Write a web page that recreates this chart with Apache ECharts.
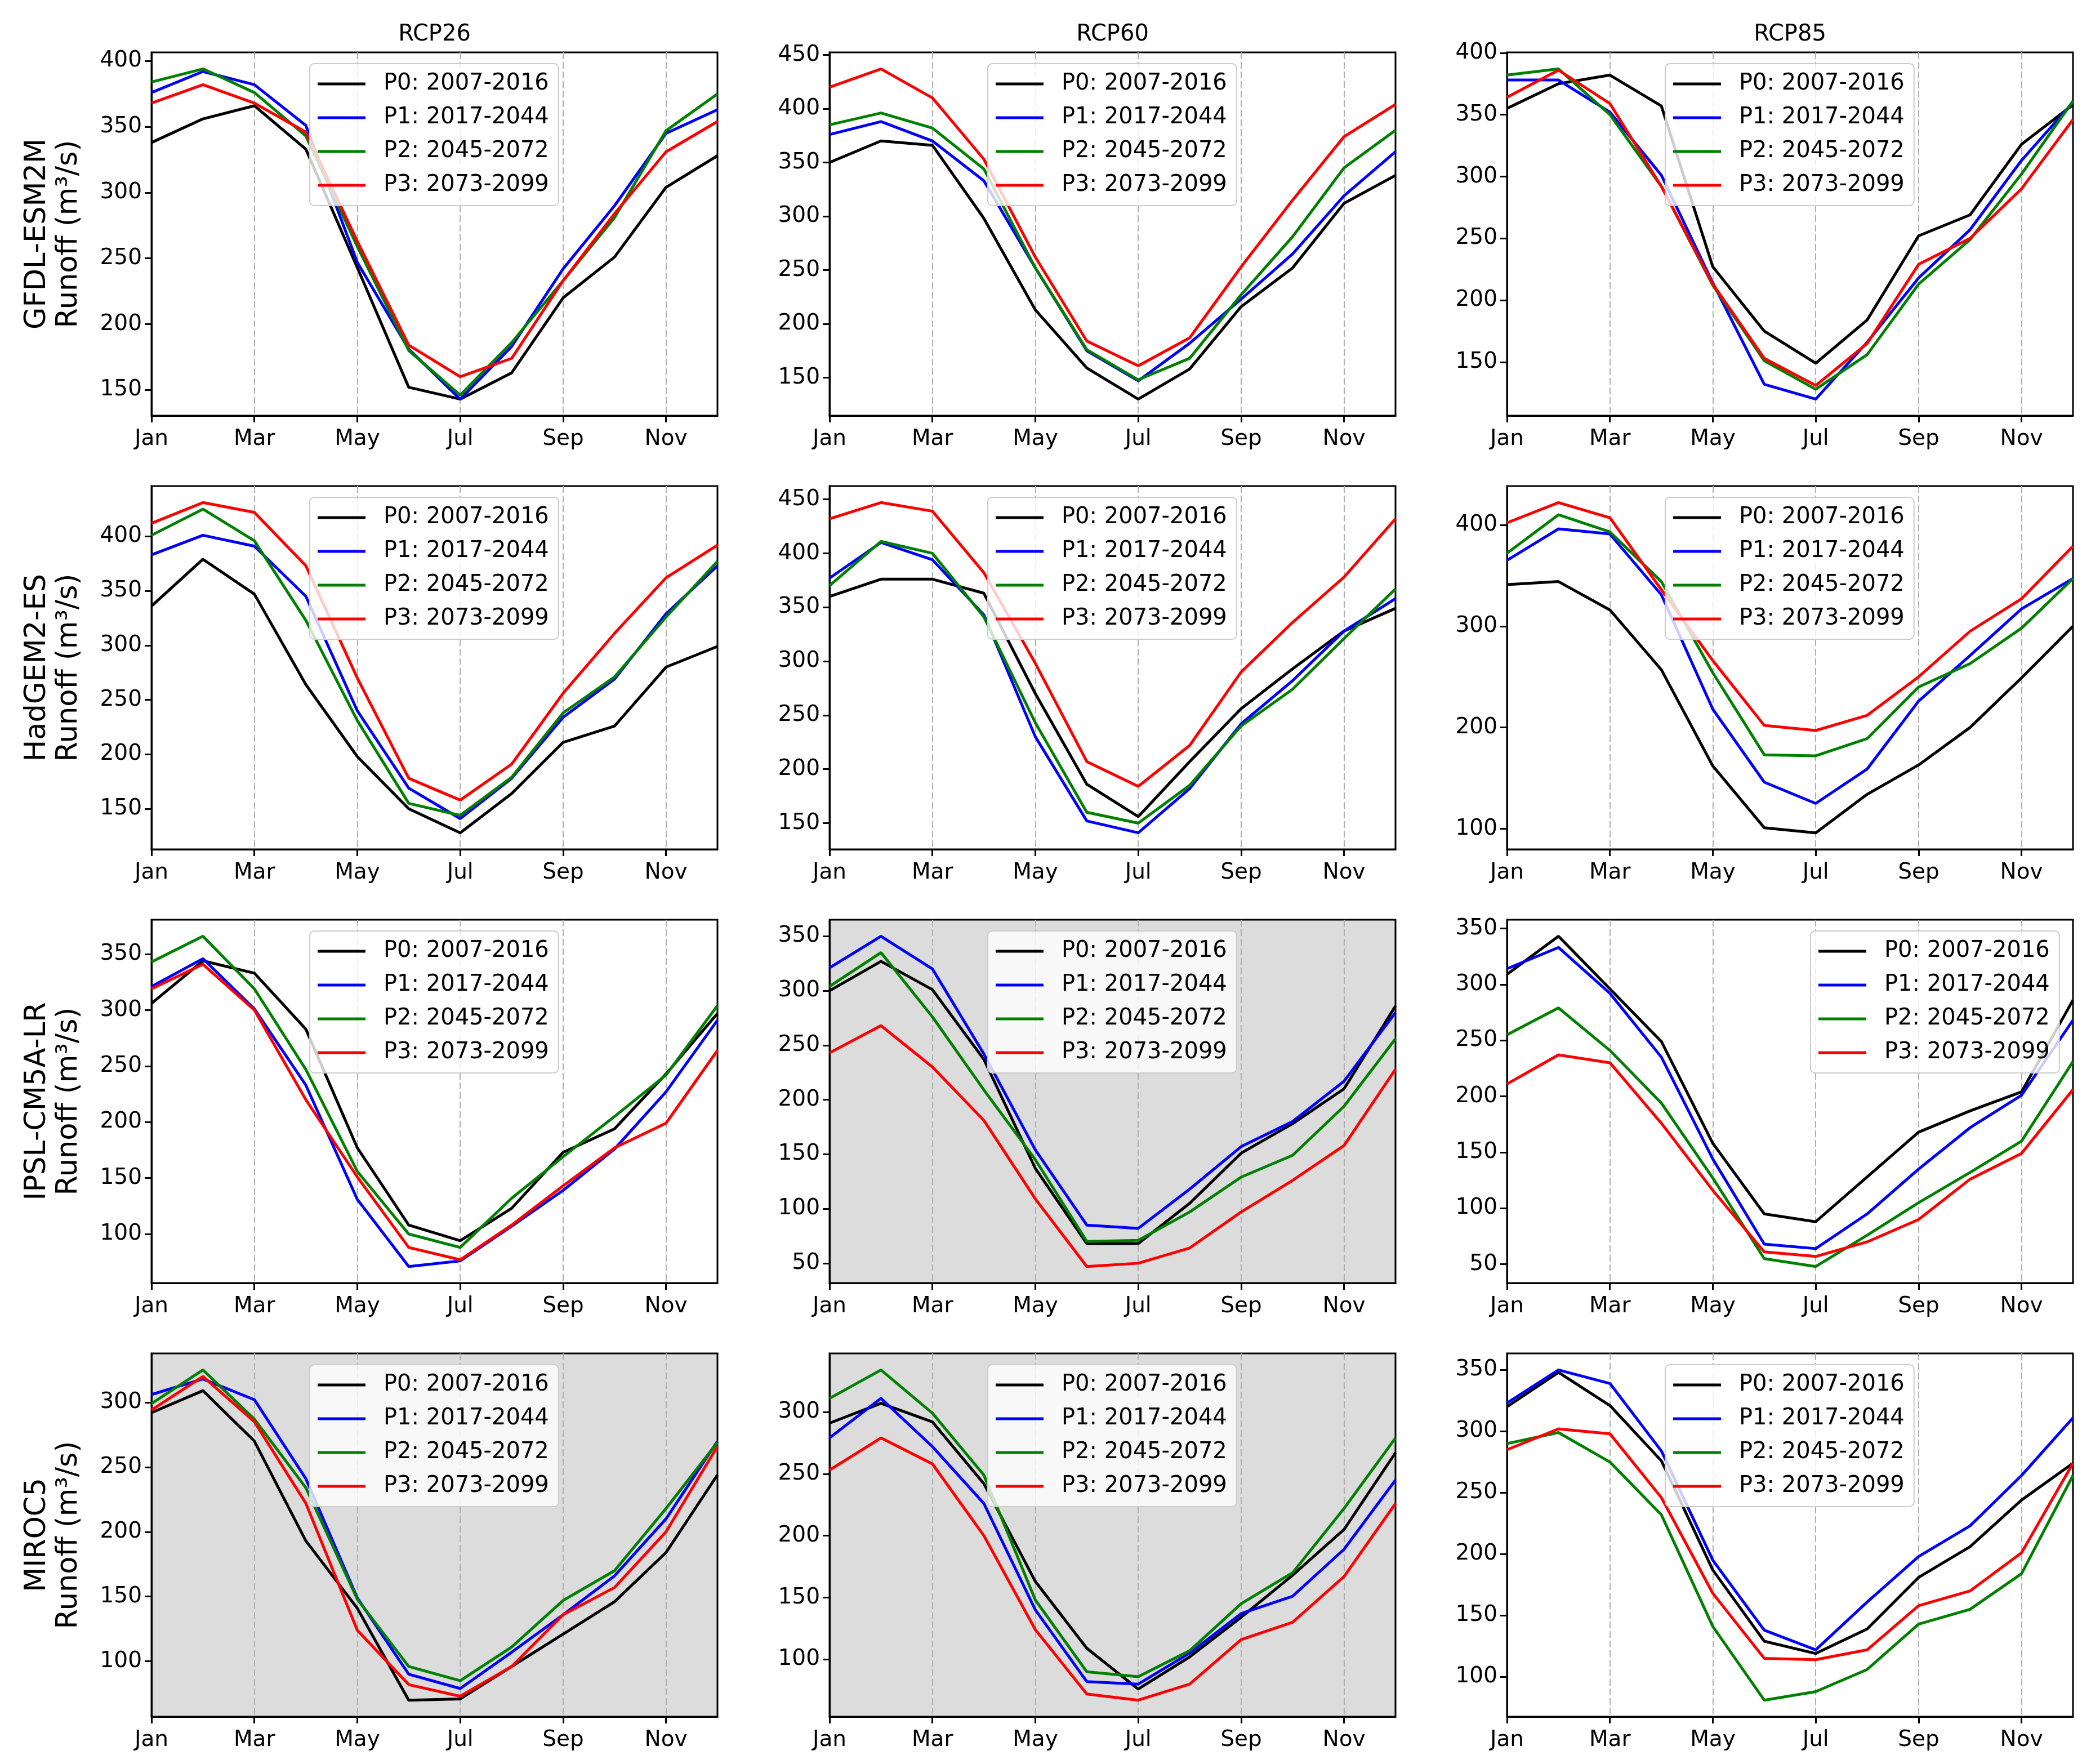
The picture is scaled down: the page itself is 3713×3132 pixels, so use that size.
<!DOCTYPE html>
<html lang="en">
<head>
    <meta charset="utf-8">
    <title>Runoff</title>
    <script src="https://cdn.jsdelivr.net/npm/echarts@6/dist/echarts.min.js"></script>
</head>
<body style="margin:0;background:#fff">
<div id="main" style="width:3713px;height:3132px"></div>
<script type="text/javascript">
    var months = ['Jan', 'Feb', 'Mar', 'Apr', 'May', 'Jun', 'Jul', 'Aug', 'Sep', 'Oct', 'Nov', 'Dec'];
    var periods = ['P0: 2007-2016', 'P1: 2017-2044', 'P2: 2045-2072', 'P3: 2073-2099'];
    var colors = ['#000000', '#0000ff', '#008000', '#ff0000'];
    var models = ['GFDL-ESM2M', 'HadGEM2-ES', 'IPSL-CM5A-LR', 'MIROC5'];
    var scenarios = ['RCP26', 'RCP60', 'RCP85'];

    // runoff (m3/s), one row per period P0..P3, Jan..Dec
    var gfdl_rcp26 = [
        [338, 356, 366, 333, 243, 152, 143, 163, 220, 251, 304, 328],
        [376, 392, 382, 351, 247, 181, 143, 183, 242, 290, 345, 363],
        [384, 394, 376, 343, 259, 180, 146, 186, 233, 281, 347, 375],
        [368, 382, 368, 346, 263, 184, 160, 174, 233, 284, 331, 354]
    ];
    var gfdl_rcp60 = [
        [350, 370, 366, 298, 213, 159, 130, 158, 216, 252, 312, 338],
        [376, 388, 370, 333, 252, 175, 147, 182, 223, 265, 319, 360],
        [385, 396, 382, 344, 252, 176, 148, 168, 227, 281, 345, 380],
        [420, 437, 410, 353, 262, 184, 161, 187, 253, 315, 374, 404]
    ];
    var gfdl_rcp85 = [
        [355, 375, 382, 357, 227, 175, 149, 184, 252, 269, 326, 358],
        [378, 378, 352, 301, 214, 132, 120, 166, 218, 257, 313, 360],
        [382, 387, 350, 292, 212, 151, 128, 156, 213, 249, 302, 361],
        [364, 386, 359, 292, 213, 153, 131, 165, 229, 250, 290, 346]
    ];
    var hadgem_rcp26 = [
        [336, 379, 347, 264, 198, 150, 128, 164, 211, 226, 280, 299],
        [383, 401, 391, 345, 240, 169, 141, 178, 234, 269, 329, 373],
        [401, 425, 396, 323, 231, 155, 144, 179, 238, 271, 326, 377],
        [412, 431, 422, 373, 270, 178, 158, 191, 256, 311, 362, 392]
    ];
    var hadgem_rcp60 = [
        [360, 376, 376, 363, 270, 186, 156, 207, 256, 293, 328, 349],
        [377, 410, 394, 343, 230, 152, 141, 182, 242, 282, 328, 358],
        [370, 411, 400, 341, 243, 160, 150, 185, 240, 274, 321, 367],
        [432, 447, 439, 382, 298, 207, 184, 222, 290, 336, 378, 432]
    ];
    var hadgem_rcp85 = [
        [341, 344, 316, 257, 162, 101, 96, 134, 163, 200, 249, 300],
        [365, 396, 391, 331, 218, 146, 125, 159, 226, 271, 317, 347],
        [372, 410, 393, 344, 254, 173, 172, 189, 240, 263, 298, 347],
        [402, 422, 407, 336, 266, 202, 197, 212, 250, 295, 327, 379]
    ];
    var ipsl_rcp26 = [
        [306, 344, 333, 283, 177, 108, 94, 123, 173, 194, 243, 297],
        [321, 346, 301, 233, 131, 71, 76, 107, 139, 176, 227, 291],
        [343, 366, 319, 247, 156, 100, 88, 132, 169, 205, 242, 304],
        [319, 341, 300, 220, 151, 88, 77, 108, 143, 177, 199, 264]
    ];
    var ipsl_rcp60 = [
        [300, 327, 301, 237, 137, 68, 68, 105, 151, 178, 210, 286],
        [321, 350, 320, 242, 154, 85, 82, 118, 157, 180, 217, 280],
        [304, 335, 276, 209, 145, 70, 71, 97, 129, 149, 194, 256],
        [243, 268, 230, 181, 109, 47, 50, 64, 97, 126, 158, 228]
    ];
    var ipsl_rcp85 = [
        [309, 343, 296, 249, 158, 95, 88, 128, 168, 187, 204, 286],
        [314, 333, 292, 235, 144, 68, 64, 95, 135, 172, 201, 268],
        [255, 279, 241, 194, 127, 55, 48, 76, 105, 132, 160, 231],
        [211, 237, 230, 176, 116, 61, 57, 70, 90, 126, 149, 206]
    ];
    var miroc_rcp26 = [
        [292, 309, 270, 193, 141, 70, 71, 96, 121, 146, 184, 244],
        [306, 318, 302, 241, 149, 90, 79, 107, 136, 166, 210, 270],
        [299, 325, 287, 234, 148, 96, 85, 111, 147, 170, 218, 269],
        [294, 320, 285, 222, 124, 82, 73, 96, 136, 157, 200, 266]
    ];
    var miroc_rcp60 = [
        [291, 307, 292, 242, 163, 109, 76, 102, 134, 168, 205, 267],
        [279, 311, 272, 226, 140, 82, 80, 105, 137, 151, 189, 245],
        [311, 334, 299, 249, 148, 90, 86, 107, 145, 170, 222, 279],
        [253, 279, 258, 200, 124, 72, 67, 80, 116, 130, 167, 226]
    ];
    var miroc_rcp85 = [
        [320, 348, 321, 276, 187, 129, 119, 139, 181, 206, 244, 274],
        [323, 350, 339, 284, 195, 138, 122, 161, 198, 223, 264, 311],
        [290, 299, 275, 232, 141, 81, 88, 106, 143, 155, 184, 264],
        [285, 302, 298, 246, 168, 115, 114, 122, 158, 170, 201, 274]
    ];

    var panels = [
        [gfdl_rcp26, gfdl_rcp60, gfdl_rcp85],
        [hadgem_rcp26, hadgem_rcp60, hadgem_rcp85],
        [ipsl_rcp26, ipsl_rcp60, ipsl_rcp85],
        [miroc_rcp26, miroc_rcp60, miroc_rcp85]
    ];
    var tickStep = [[50, 50, 50], [50, 50, 100], [50, 50, 50], [50, 50, 50]];
    var shaded = [[0, 0, 0], [0, 0, 0], [0, 1, 0], [1, 1, 0]];
    var legendRight = [[0, 0, 0], [0, 0, 0], [0, 0, 1], [0, 0, 0]];

    // layout (px)
    var colLeft = [269, 1473, 2676];
    var rowTop = [93, 863, 1633, 2403];
    var W = 1005, H = 645;
    var FONT = 'DejaVu Sans';

    var myChart = echarts.init(document.getElementById('main'));

    var grids = [], xAxes = [], yAxes = [], series = [], legends = [], titles = [];

    for (var c = 0; c < 3; c++) {
        titles.push({
            text: scenarios[c],
            left: colLeft[c] + W / 2,
            top: 42,
            textAlign: 'center',
            padding: 0,
            textStyle: {fontSize: 40, fontWeight: 'normal', color: '#000', fontFamily: FONT}
        });
    }

    for (var r = 0; r < 4; r++) {
        for (var c = 0; c < 3; c++) {
            var k = grids.length;
            var vals = panels[r][c];
            var lo = Infinity, hi = -Infinity;
            vals.forEach(function (row) {
                row.forEach(function (v) {
                    lo = Math.min(lo, v);
                    hi = Math.max(hi, v);
                });
            });
            // matplotlib style 5% margins
            var pad = (hi - lo) * 0.05;
            var ymin = lo - pad, ymax = hi + pad;
            var step = tickStep[r][c];
            var ticks = [];
            for (var t = Math.ceil(ymin / step) * step; t <= ymax; t += step) ticks.push(t);

            grids.push({
                left: colLeft[c], top: rowTop[r], width: W, height: H,
                show: true,
                backgroundColor: shaded[r][c] ? '#dcdcdc' : 'transparent',
                borderColor: '#000', borderWidth: 3
            });

            xAxes.push({
                gridIndex: k,
                type: 'category',
                data: months,
                boundaryGap: false,
                axisLine: {show: true, lineStyle: {color: '#000', width: 3}},
                axisTick: {show: true, interval: 1, length: 12, lineStyle: {color: '#000', width: 3}},
                axisLabel: {interval: 1, margin: 22, fontSize: 39, color: '#000', fontFamily: FONT},
                splitLine: {show: true, interval: 1, lineStyle: {type: [12, 5], color: '#b0b0b0', width: 2}}
            });

            var ya = {
                gridIndex: k,
                type: 'value',
                min: ymin,
                max: ymax,
                axisLine: {show: true, lineStyle: {color: '#000', width: 3}},
                axisTick: {show: true, length: 12, customValues: ticks, lineStyle: {color: '#000', width: 3}},
                axisLabel: {margin: 17, fontSize: 39, color: '#000', fontFamily: FONT, customValues: ticks},
                splitLine: {show: false}
            };
            if (c === 0) {
                ya.name = models[r] + '\nRunoff (m³/s)';
                ya.nameLocation = 'middle';
                ya.nameRotate = 90;
                ya.nameGap = 118;
                ya.nameTextStyle = {fontSize: 51, lineHeight: 56, color: '#000', fontFamily: FONT, align: 'center'};
            }
            yAxes.push(ya);

            for (var p = 0; p < 4; p++) {
                series.push({
                    type: 'line',
                    name: periods[p],
                    xAxisIndex: k,
                    yAxisIndex: k,
                    data: vals[p],
                    symbol: 'none',
                    showSymbol: false,
                    color: colors[p],
                    lineStyle: {color: colors[p], width: 5},
                    silent: true
                });
            }

            legends.push({
                data: periods,
                orient: 'vertical',
                left: colLeft[c] + (legendRight[r][c] ? 539 : 281),
                top: rowTop[r] + 20,
                icon: 'rect',
                itemWidth: 85,
                itemHeight: 5,
                itemGap: 20,
                padding: [16, 17, 16, 14],
                backgroundColor: 'rgba(255,255,255,0.8)',
                borderColor: '#cccccc',
                borderWidth: 2,
                borderRadius: 8,
                selectedMode: false,
                textStyle: {fontSize: 40, lineHeight: 40, color: '#000', fontFamily: FONT, padding: [0, 0, 0, 27]}
            });
        }
    }

    var option = {
        animation: false,
        backgroundColor: '#fff',
        title: titles,
        legend: legends,
        grid: grids,
        xAxis: xAxes,
        yAxis: yAxes,
        series: series
    };
    myChart.setOption(option);
</script>
</body>
</html>
